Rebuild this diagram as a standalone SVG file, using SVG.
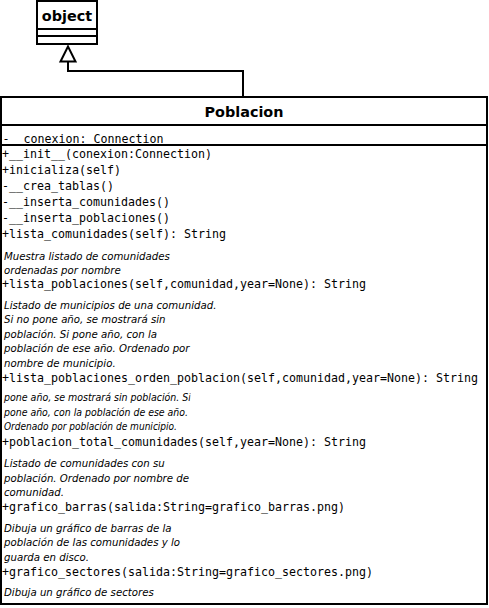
<svg xmlns="http://www.w3.org/2000/svg" width="489" height="608" viewBox="0 0 489 608">
<style>
.box{fill:#fff;stroke:#000;stroke-width:2}
.sep{stroke:#000;stroke-width:2}
.name{font-family:"DejaVu Sans",sans-serif;font-weight:bold;font-size:14.4px;fill:#000;text-anchor:middle}
.m{font-family:"DejaVu Sans Mono",monospace;font-size:11.63px;fill:#000}
.n{font-family:"DejaVu Sans",sans-serif;font-style:italic;font-size:10.2px;fill:#000}
.edge{fill:none;stroke:#000;stroke-width:2}
</style>
<defs>
<clipPath id="noteclip"><rect x="0" y="380" width="190.5" height="60"/></clipPath>
</defs>
<rect x="0" y="0" width="489" height="608" fill="#fff"/>
<g id="connectors">
<polyline class="edge" points="243,97 243,71 68,71 68,61.5"/>
<polygon class="box" points="68,46.5 60.5,61.5 75.5,61.5"/>
</g>
<g id="object">
<rect class="box" x="37" y="1" width="60" height="43"/>
<line class="sep" x1="37" y1="29" x2="97" y2="29"/>
<line class="sep" x1="37" y1="36" x2="97" y2="36"/>
<text class="name" x="67" y="21">object</text>
</g>
<g id="Poblacion">
<rect class="box" x="1" y="97" width="486" height="507"/>
<text class="name" x="244" y="117">Poblacion</text>
<text class="m" x="2.5" y="142.5">-__conexion: Connection</text>
<line class="sep" x1="1" y1="125" x2="487" y2="125"/>
<line class="sep" x1="1" y1="145" x2="487" y2="145"/>
<text class="m" x="2" y="157.5">+__init__(conexion:Connection)</text>
<text class="m" x="2" y="173.5">+inicializa(self)</text>
<text class="m" x="2" y="189.5">-__crea_tablas()</text>
<text class="m" x="2" y="205.5">-__inserta_comunidades()</text>
<text class="m" x="2" y="221.5">-__inserta_poblaciones()</text>
<text class="m" x="2" y="237.5">+lista_comunidades(self): String</text>
<text class="m" x="2" y="288">+lista_poblaciones(self,comunidad,year=None): String</text>
<text class="m" x="2" y="381.5">+lista_poblaciones_orden_poblacion(self,comunidad,year=None): String</text>
<text class="m" x="2" y="445.5">+poblacion_total_comunidades(self,year=None): String</text>
<text class="m" x="2" y="511">+grafico_barras(salida:String=grafico_barras.png)</text>
<text class="m" x="2" y="576">+grafico_sectores(salida:String=grafico_sectores.png)</text>
<text class="n" x="4" y="259.5">Muestra listado de comunidades</text>
<text class="n" x="4" y="274">ordenadas por nombre</text>
<text class="n" x="4" y="308.5">Listado de municipios de una comunidad.</text>
<text class="n" x="4" y="323">Si no pone año, se mostrará sin</text>
<text class="n" x="4" y="337.5">población. Si pone año, con la</text>
<text class="n" x="4" y="352">población de ese año. Ordenado por</text>
<text class="n" x="4" y="366.5">nombre de municipio.</text>
<g clip-path="url(#noteclip)">
<text class="n" x="4" y="401" textLength="187" lengthAdjust="spacingAndGlyphs">pone año, se mostrará sin población. Si</text>
<text class="n" x="4" y="415.5" textLength="184" lengthAdjust="spacingAndGlyphs">pone año, con la población de ese año.</text>
<text class="n" x="4" y="430" textLength="173" lengthAdjust="spacingAndGlyphs">Ordenado por población de municipio.</text>
</g>
<text class="n" x="4" y="467">Listado de comunidades con su</text>
<text class="n" x="4" y="481.5">población. Ordenado por nombre de</text>
<text class="n" x="4" y="496">comunidad.</text>
<text class="n" x="4" y="531.5">Dibuja un gráfico de barras de la</text>
<text class="n" x="4" y="546">población de las comunidades y lo</text>
<text class="n" x="4" y="560.5">guarda en disco.</text>
<text class="n" x="4" y="596">Dibuja un gráfico de sectores</text>
</g>
</svg>
